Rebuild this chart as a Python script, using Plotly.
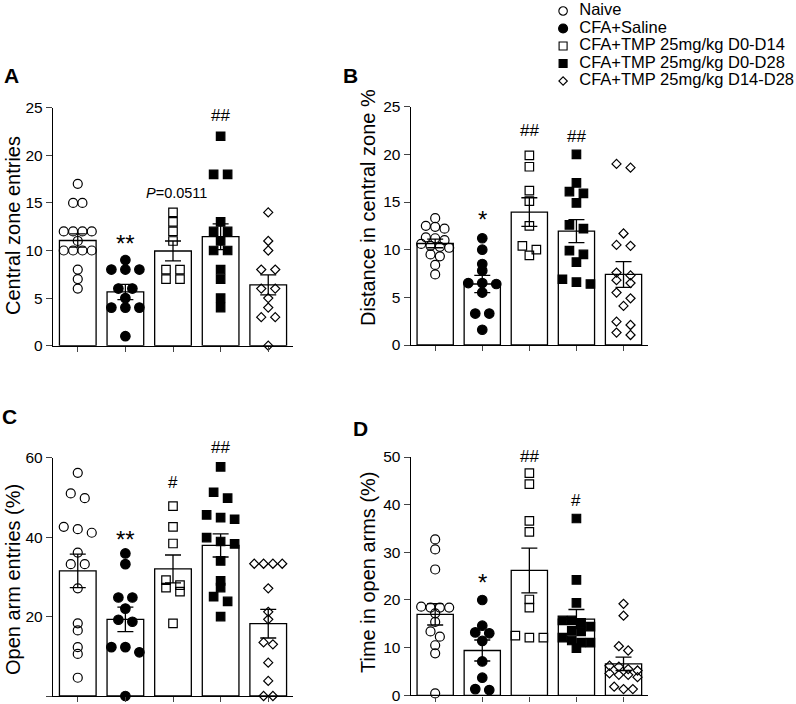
import plotly.graph_objects as go

W, H = 796, 704
FONT = "Liberation Sans, Arial, sans-serif"

groups = ["Naive", "CFA+Saline", "CFA+TMP 25mg/kg D0-D14",
          "CFA+TMP 25mg/kg D0-D28", "CFA+TMP 25mg/kg D14-D28"]

# A - central zone entries
a_naive = [17, 15, 15, 12, 12, 12, 12, 11, 10, 10, 10, 10, 8, 7, 6]
a_saline = [9, 8, 8, 8, 6, 6, 5, 4, 4, 4, 1]
a_d0_d14 = [14, 13, 12, 11, 8, 8, 7, 7]
a_d0_d28 = [22, 18, 18, 13, 12, 12, 11, 10, 10, 8, 7, 5, 4]
a_d14_d28 = [14, 11, 10, 8, 8, 6, 6, 5, 4, 3, 3, 0]
a_mean = [11.05, 5.65, 9.95, 11.45, 6.38]
a_sem = [0.7, 0.8, 1.05, 1.35, 1.05]

# B - distance in central zone %
b_naive = [13.3, 12.5, 12.4, 12.2, 11.3, 11.2, 11.0, 10.6, 10.4, 10.3, 10.2, 9.5, 9.3, 8.4, 7.4]
b_saline = [11.2, 10.0, 8.5, 7.8, 6.5, 6.5, 6.4, 5.5, 3.3, 3.3, 1.6]
b_d0_d14 = [19.9, 18.7, 16.2, 15.1, 12.5, 10.4, 10.0, 9.4]
b_d0_d28 = [20.0, 17.0, 16.1, 15.9, 14.9, 12.6, 12.2, 9.9, 9.5, 8.7, 6.9, 6.6, 6.4]
b_d14_d28 = [19.0, 18.6, 11.7, 10.5, 10.4, 7.6, 7.3, 6.8, 6.5, 5.5, 4.9, 4.1, 2.45, 2.1, 1.3, 1.05]
b_mean = [10.65, 6.4, 13.95, 11.95, 7.4]
b_sem = [0.45, 0.9, 1.5, 1.2, 1.35]

# C - open arm entries (%)
c_naive = [56.2, 51.0, 49.8, 42.6, 42.0, 41.1, 36.1, 33.2, 33.2, 27.1, 18.3, 16.5, 12.3, 10.6, 4.6]
c_saline = [35.9, 33.2, 24.8, 24.8, 22.0, 19.2, 18.7, 12.3, 12.3, 11.0, 0]
c_d0_d14 = [47.8, 42.6, 38.4, 29.2, 27.9, 27.3, 26.3, 18.3]
c_d0_d28 = [57.7, 51.3, 49.8, 45.6, 44.9, 44.5, 39.9, 38.9, 38.3, 34.0, 29.0, 27.3, 25.0, 23.8, 20.0]
c_d14_d28 = [33.3, 33.3, 33.3, 33.3, 27.1, 21.2, 19.3, 13.5, 13.0, 8.4, 3.8, 0, 0]
c_mean = [31.5, 19.3, 32.0, 37.9, 18.2]
c_sem = [4.2, 3.1, 3.5, 2.9, 3.6]

# D - time in open arms (%)
d_naive = [32.7, 30.6, 26.4, 18.6, 18.4, 18.4, 18.4, 17.2, 15.4, 13.4, 12.3, 10.5, 8.8, 0.4]
d_saline = [20.0, 14.6, 13.2, 13.0, 11.4, 7.1, 3.7, 1.3, 1.1]
d_d0_d14 = [46.6, 44.3, 36.6, 34.3, 20.1, 18.4, 12.5, 12.1, 12.1]
d_d0_d28 = [37.1, 24.2, 19.4, 15.7, 15.7, 15.2, 14.4, 13.5, 13.4, 12.1, 11.5, 11.05, 11.05, 9.9]
d_d14_d28 = [19.2, 16.7, 10.3, 9.4, 6.2, 6.0, 5.5, 5.2, 4.6, 4.3, 4.3, 3.8, 1.8, 1.3, 1.3]
d_mean = [17.0, 9.4, 26.2, 16.0, 6.6]
d_sem = [2.25, 2.2, 4.7, 2.0, 1.4]

# significance marks: (text, group, y)
a_marks = [("**", 1, 11.4), ("<i>P</i>=0.0511", 2, 16.0), ("##", 3, 24.2)]
b_marks = [("*", 1, 13.8), ("##", 2, 22.5), ("##", 3, 21.9)]
c_marks = [("**", 1, 41.0), ("#", 2, 53.7), ("##", 3, 62.5)]
d_marks = [("*", 1, 24.9), ("##", 2, 50.1), ("#", 3, 40.8)]

symbols = ["circle-open", "circle", "square-open", "square", "diamond-open"]
sizes = [9, 9.5, 8.5, 8.5, 7]


def dom_x(l, r):
    return [l / W, r / W]


def dom_y(top, bot):
    return [1 - bot / H, 1 - top / H]


def swarm(vals, ypx, xpx, size_px=6.5, spread_px=28, max_gap=14):
    # Prism-like column scatter: close values share a row, spread sideways
    rows = []
    for v in sorted(vals, reverse=True):
        if rows and (rows[-1][0] - v) * ypx < size_px:
            rows[-1].append(v)
        else:
            rows.append([v])
    kmax = max(len(r) for r in rows)
    gap = min(max_gap, spread_px / (kmax - 1)) if kmax > 1 else 0
    xs, ys = [], []
    for r in rows:
        k = len(r)
        for i, v in enumerate(r):
            xs.append((i - (k - 1) / 2) * gap / xpx)
            ys.append(v)
    return xs, ys


XR = [-0.52, 4.52]
panels = [
    dict(letter="A", ax="", data=[a_naive, a_saline, a_d0_d14, a_d0_d28, a_d14_d28],
         mean=a_mean, sem=a_sem, marks=a_marks, ymax=25, dtick=5,
         xd=(53, 293), yd=(107.7, 345.7), title="Central zone entries",
         tpos=(13, 226), lpos=(11, 76)),
    dict(letter="B", ax="2", data=[b_naive, b_saline, b_d0_d14, b_d0_d28, b_d14_d28],
         mean=b_mean, sem=b_sem, marks=b_marks, ymax=25, dtick=5,
         xd=(410.7, 648), yd=(106.7, 345), title="Distance in central zone %",
         tpos=(368, 208), lpos=(350, 76)),
    dict(letter="C", ax="3", data=[c_naive, c_saline, c_d0_d14, c_d0_d28, c_d14_d28],
         mean=c_mean, sem=c_sem, marks=c_marks, ymax=60, dtick=20,
         xd=(53, 293), yd=(457.7, 696), title="Open arm entries (%)",
         tpos=(13, 580), lpos=(9, 416)),
    dict(letter="D", ax="4", data=[d_naive, d_saline, d_d0_d14, d_d0_d28, d_d14_d28],
         mean=d_mean, sem=d_sem, marks=d_marks, ymax=50, dtick=10,
         xd=(410.7, 648), yd=(457, 695.3), title="Time in open arms (%)",
         tpos=(368, 572), lpos=(360, 428)),
]

fig = go.Figure()
layout = dict(width=W, height=H, margin=dict(l=0, r=0, t=0, b=0, pad=0),
              paper_bgcolor="white", plot_bgcolor="white", showlegend=False,
              font=dict(family=FONT, color="black", size=15))
annotations = []

for p in panels:
    xa, ya = "x" + p["ax"], "y" + p["ax"]
    xpx = (p["xd"][1] - p["xd"][0]) / (XR[1] - XR[0])
    ypx = (p["yd"][1] - p["yd"][0]) / p["ymax"]

    fig.add_trace(go.Bar(
        x=list(range(5)), y=p["mean"], width=0.77, xaxis=xa, yaxis=ya,
        marker=dict(color="white", line=dict(color="black", width=1.3)),
        error_y=dict(type="data", array=p["sem"], color="black", thickness=1.3, width=8),
        hoverinfo="skip"))

    for g, vals in enumerate(p["data"]):
        dx, ys = swarm(vals, ypx, xpx)
        fig.add_trace(go.Scatter(
            x=[g + d for d in dx], y=ys, mode="markers", xaxis=xa, yaxis=ya,
            cliponaxis=False,
            marker=dict(symbol=symbols[g], size=sizes[g], color="black",
                        line=dict(color="black", width=1.2))))

    for text, g, yv in p["marks"]:
        star = text.startswith("*")
        italic = text.startswith("<i>")
        # marks above the axis top are pinned to it and shifted up in pixels
        over = max(0.0, yv - p["ymax"])
        annotations.append(dict(
            x=g + (0.07 if italic else 0), y=yv - over, xref=xa, yref=ya,
            text=text, showarrow=False, xanchor="center", yanchor="middle",
            yshift=(-6 if star else 0) + over * ypx,
            font=dict(size=24 if star else (14.5 if italic else 17),
                      family=FONT, color="black")))

    annotations.append(dict(
        x=p["tpos"][0] / W, y=1 - p["tpos"][1] / H, xref="paper", yref="paper",
        text=p["title"], textangle=-90, showarrow=False,
        xanchor="center", yanchor="middle", font=dict(size=20, family=FONT)))
    annotations.append(dict(
        x=p["lpos"][0] / W, y=1 - p["lpos"][1] / H, xref="paper", yref="paper",
        text="<b>" + p["letter"] + "</b>", showarrow=False,
        xanchor="center", yanchor="middle", font=dict(size=21, family=FONT)))

    layout["xaxis" + p["ax"]] = dict(
        domain=dom_x(*p["xd"]), range=XR, anchor=ya, tickvals=list(range(5)),
        ticktext=[""] * 5, ticks="outside", ticklen=5, tickwidth=1.3,
        showline=True, linecolor="black", linewidth=1.4, showgrid=False,
        zeroline=False, fixedrange=True, automargin=False)
    layout["yaxis" + p["ax"]] = dict(
        domain=dom_y(*p["yd"]), range=[0, p["ymax"]], dtick=p["dtick"], anchor=xa,
        ticks="outside", ticklen=6, tickwidth=1.3, showline=True, linecolor="black",
        linewidth=1.4, showgrid=False, zeroline=False, tickfont=dict(size=15.5),
        fixedrange=True, automargin=False)

# legend drawn on its own hidden axes
leg_idx = list(range(len(groups)))
for g in leg_idx:
    fig.add_trace(go.Scatter(
        x=[0], y=[g], mode="markers", xaxis="x5", yaxis="y5", cliponaxis=False,
        marker=dict(symbol=symbols[g], size=sizes[g] - 0.5, color="black",
                    line=dict(color="black", width=1.1))))
fig.add_trace(go.Scatter(
    x=[0.66] * len(groups), y=leg_idx, mode="text", text=groups,
    textposition="middle right", xaxis="x5", yaxis="y5", cliponaxis=False,
    textfont=dict(size=16.5, family=FONT, color="black")))
layout["xaxis5"] = dict(domain=[0.692, 1.0], range=[-0.5, 9.5], visible=False,
                        anchor="y5", fixedrange=True)
layout["yaxis5"] = dict(domain=dom_y(5.75, 86.25), range=[4.3, -0.3], visible=False,
                        anchor="x5", fixedrange=True)

layout["annotations"] = annotations
fig.update_layout(**layout)
# the page body margin would push the figure 8px right and down
fig.write_html("out.html", config={"displayModeBar": False},
               post_script="document.body.style.margin='0px';")
